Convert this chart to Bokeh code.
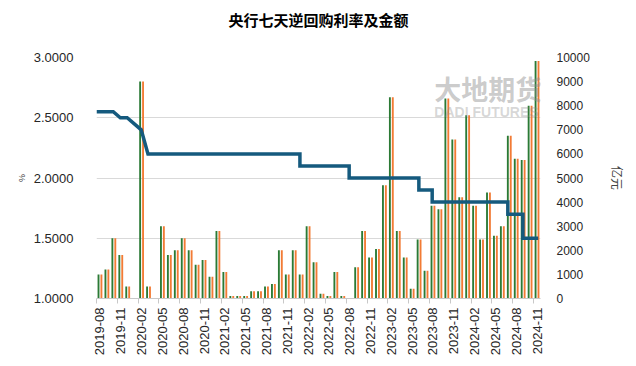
import math
import calendar
from bokeh.plotting import figure
from bokeh.models import Range1d, LinearAxis, FixedTicker, NumeralTickFormatter, Label, Title
from bokeh.embed import file_html
from bokeh.resources import INLINE

# ---------------- data ----------------
months = [f"{2019 + (7 + i) // 12}-{(7 + i) % 12 + 1:02d}" for i in range(64)]  # 2019-08 .. 2024-11

amount_green = [1000, 1200, 2500, 1800, 500, 0, 9000, 500, 0, 3000,
                1800, 2000, 2500, 2000, 1400, 1600, 900, 2800, 1100, 100,
                100, 100, 300, 300, 500, 600, 2000, 1000, 2000, 1000,
                3000, 1500, 200, 100, 1100, 100, 0, 1300, 2800, 1700,
                2050, 4700, 8350, 2800, 1700, 400, 2450, 1150, 3850, 3700,
                8300, 6600, 4200, 7600, 3850, 2450, 4400, 2600, 3000, 6750,
                5800, 5750, 8000, 9850]
amount_orange = list(amount_green)

rate_dates = ["2019-08-01", "2019-10-14", "2019-11-14", "2019-12-14", "2020-02-14",
              "2020-03-14", "2022-01-11", "2022-01-11", "2022-08-14", "2022-08-14",
              "2023-06-15", "2023-06-15", "2023-08-13", "2023-08-13", "2024-07-10",
              "2024-07-10", "2024-09-15", "2024-09-15", "2024-11-21"]
rates = [2.55, 2.55, 2.50, 2.50, 2.40,
         2.20, 2.20, 2.10, 2.10, 2.00,
         2.00, 1.90, 1.90, 1.80, 1.80,
         1.70, 1.70, 1.50, 1.50]

left_ticks = [1.0, 1.5, 2.0, 2.5, 3.0]
right_ticks = list(range(0, 10001, 1000))
title_text = "央行七天逆回购利率及金额"


def month_pos(s):
    y, m, d = map(int, s.split("-"))
    nd = calendar.monthrange(y, m)[1]
    return (y - 2019) * 12 + (m - 8) + (d - 1) / nd


FONT = "Liberation Sans"
CJK = "Noto Sans CJK SC"

p = figure(width=628, height=358, x_range=Range1d(0, len(months)), y_range=Range1d(1.0, 3.0),
           output_backend="svg", toolbar_location=None, title=None,
           min_border_left=96, min_border_right=81, min_border_top=57, min_border_bottom=60)
p.outline_line_color = None
p.background_fill_color = "white"

# spacer between frame and title, then the title itself (further out)
p.add_layout(Title(text=" ", text_font_size="10px"), "above")
p.add_layout(Title(text=title_text, align="center", text_font=CJK, text_font_size="15px",
                   text_font_style="bold", text_color="#000000"), "above")

# x axis
idx3 = list(range(0, len(months), 3))
xa = p.xaxis[0]
xa.ticker = FixedTicker(ticks=[i + 0.5 for i in idx3], minor_ticks=idx3)
xa.major_label_overrides = {i + 0.5: months[i] for i in idx3}
xa.major_label_orientation = math.pi / 2
xa.major_tick_out = 0
xa.major_tick_in = 0
xa.minor_tick_out = 5
xa.minor_tick_in = 0
xa.minor_tick_line_color = "#c8c8c8"
xa.axis_line_color = "#c8c8c8"
xa.major_label_text_font = FONT
xa.major_label_text_font_size = "13px"
xa.major_label_text_color = "#262626"
xa.major_label_standoff = 4

# left y axis
ya = p.yaxis[0]
ya.ticker = FixedTicker(ticks=left_ticks)
ya.formatter = NumeralTickFormatter(format="0.0000")
ya.axis_line_color = None
ya.major_tick_line_color = None
ya.minor_tick_line_color = None
ya.major_label_text_font = FONT
ya.major_label_text_font_size = "13px"
ya.major_label_text_color = "#262626"
ya.major_label_standoff = 17
ya.axis_label = "%"
ya.axis_label_text_font = FONT
ya.axis_label_text_font_size = "9px"
ya.axis_label_text_font_style = "normal"
ya.axis_label_standoff = 4

p.xgrid.visible = False
p.ygrid.grid_line_color = "#d9d9d9"
p.ygrid.grid_line_width = 1

# right y axis
p.extra_y_ranges = {"amt": Range1d(0, 10000)}
ra = LinearAxis(y_range_name="amt", ticker=FixedTicker(ticks=right_ticks))
ra.axis_line_color = None
ra.major_tick_line_color = None
ra.minor_tick_line_color = None
ra.major_label_text_font = FONT
ra.major_label_text_font_size = "12px"
ra.major_label_text_color = "#262626"
ra.major_label_standoff = 10
ra.axis_label = "亿元"
ra.axis_label_text_font = CJK
ra.axis_label_text_font_size = "12px"
ra.axis_label_text_font_style = "normal"
ra.axis_label_standoff = 16
p.add_layout(ra, "right")

# bars
xg = [i + 0.29 for i in range(len(months))]
xo = [i + 0.71 for i in range(len(months))]
p.vbar(x=xg, top=amount_green, bottom=0, width=0.27, y_range_name="amt",
       fill_color="#2b7a35", line_color=None)
p.vbar(x=xo, top=amount_orange, bottom=0, width=0.27, y_range_name="amt",
       fill_color="#f27b35", line_color=None)

# rate line
p.line(x=[month_pos(d) for d in rate_dates], y=rates, line_width=3.5,
       line_color="#155a7e", line_join="miter")

# watermark
p.add_layout(Label(x=48.7, y=7900, y_range_name="amt", text="大地期货", text_font=CJK,
                   text_font_size="27px", text_font_style="bold", text_color="#8c8c8c",
                   text_alpha=0.45))
p.add_layout(Label(x=48.7, y=7400, y_range_name="amt", text="DADI FUTURES", text_font=FONT,
                   text_font_size="14px", text_font_style="bold", text_color="#8c8c8c",
                   text_alpha=0.35))

open("out.html", "w").write(file_html(p, INLINE))
